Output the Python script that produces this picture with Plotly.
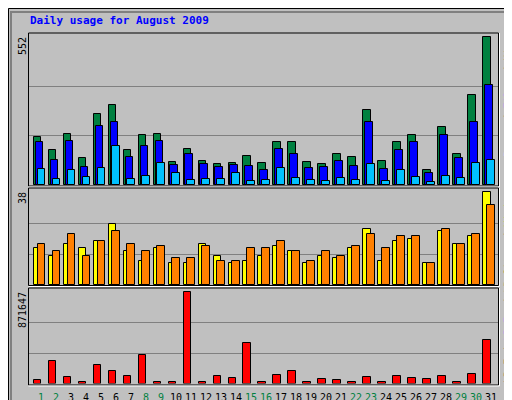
import plotly.graph_objects as go

days = list(range(1, 32))
hits = [181,129,192,102,267,297,129,185,192,87,136,91,80,84,110,84,159,159,87,80,117,106,282,91,159,185,57,215,114,338,552]
files = [162,95,166,69,219,237,106,144,166,76,117,80,69,76,72,57,136,117,65,69,91,72,234,61,132,162,46,185,99,234,375]
pages = [61,24,57,31,65,147,24,35,84,46,20,24,24,46,16,20,65,27,20,16,27,20,80,16,57,31,12,35,27,84,95]
visits = [15,12,17,15,18,25,14,10,15,9,9,17,12,9,10,12,16,14,9,12,11,15,23,10,18,19,9,22,17,20,38]
sites = [17,14,21,12,18,22,17,14,16,11,11,16,10,10,15,15,18,14,10,14,12,16,21,15,20,20,9,23,17,21,33]
kbf = [32000,213000,60000,12000,175000,118000,70000,270000,12000,12000,871647,12000,70000,51000,385000,12000,80000,118000,12000,41000,32000,12000,60000,12000,70000,51000,41000,70000,12000,89000,413000]
weekend = [1,2,8,9,15,16,22,23,29,30]
max_hits, max_visits, max_kb = 552, 38, 871647

fig = go.Figure()
def bars(y, color, off, ax):
    fig.add_trace(go.Bar(x=days, y=y, marker=dict(color=color, line=dict(color="black", width=1)),
                         offset=off, width=0.49, xaxis="x" + ax, yaxis="y" + ax, showlegend=False))
bars(hits, "#008040", -0.38, "")
bars(files, "#0000FF", -0.25, "")
bars(pages, "#00C0FF", -0.12, "")
bars(visits, "#FFFF00", -0.38, "2")
bars(sites, "#FF8000", -0.12, "2")
bars(kbf, "#FF0000", -0.38, "3")

xr = [0.31, 31.6]
xdom = [21/512, 490/512]
xcommon = dict(range=xr, domain=xdom, showticklabels=False, showgrid=False, zeroline=False, fixedrange=True)
def yax(dom, mx, rng):
    return dict(domain=dom, range=[0, rng], tickvals=[mx/3, 2*mx/3], ticktext=["", ""],
                showgrid=True, gridcolor="#808080", gridwidth=1, zeroline=False, ticks="")
fig.update_layout(
    width=512, height=400, margin=dict(l=0, r=0, t=0, b=0),
    paper_bgcolor="#C0C0C0", plot_bgcolor="#C0C0C0", barmode="overlay", bargap=0,
    xaxis=dict(**xcommon, anchor="y"), xaxis2=dict(**xcommon, anchor="y2"), xaxis3=dict(**xcommon, anchor="y3"),
    yaxis=dict(**yax([0.5575, 0.935], max_hits, 564), anchor="x"),
    yaxis2=dict(**yax([0.3075, 0.5475], max_visits * 0.99, 39.4), anchor="x2"),
    yaxis3=dict(**yax([0.061, 0.2975], max_kb, 903000), anchor="x3"),
)
mono = "DejaVu Sans Mono"
ann = [dict(x=20/512, y=1-12/400, xref="paper", yref="paper", text="<b>Daily usage for August 2009</b>",
            showarrow=False, xanchor="left", yanchor="middle", font=dict(family=mono, size=11, color="#0000FF"))]
for lbl, yv in [(str(max_hits), 1-27/400), (str(max_visits), 1-182/400), (str(max_kb), 1-282/400)]:
    ann.append(dict(x=14/512, y=yv, xref="paper", yref="paper", text=lbl, textangle=-90, showarrow=False,
                    xanchor="center", yanchor="top", font=dict(family=mono, size=10, color="black")))
f = dict(family=mono, size=10, color="black")
ann.append(dict(x=500/512, y=1-27/400, xref="paper", yref="paper", textangle=-90, showarrow=False,
                xanchor="center", yanchor="top", font=f,
                text='<span style="color:#00C0FF">Pages</span> / <span style="color:#0000FF">Files</span> / <span style="color:#008040">Hits</span>'))
ann.append(dict(x=500/512, y=1-181/400, xref="paper", yref="paper", textangle=-90, showarrow=False,
                xanchor="center", yanchor="top", font=f,
                text='<span style="color:#FF8000">Sites</span> / <span style="color:#FFFF00">Visits</span>'))
ann.append(dict(x=500/512, y=1-377/400, xref="paper", yref="paper", textangle=-90, showarrow=False,
                xanchor="center", yanchor="bottom", font=f,
                text='<span style="color:#FF0000">kB F</span> / <span style="color:#0000FF">kB In</span> / <span style="color:#008040">kB Out</span>'))
for d in days:
    ann.append(dict(x=d + 0.11, y=1-389/400, xref="x3", yref="paper", text=str(d), showarrow=False,
                    xanchor="center", yanchor="middle",
                    font=dict(family=mono, size=10, color="#008040" if d in weekend else "black")))
fig.update_layout(annotations=ann)

shapes = [dict(type="rect", xref="paper", yref="paper", x0=0.5/512, y0=0.5/400, x1=511.5/512, y1=399.5/400,
               line=dict(color="black", width=1)),
          dict(type="rect", xref="paper", yref="paper", x0=3/512, y0=4/400, x1=508/512, y1=396/400,
               line=dict(color="#808080", width=2))]
for top, bot in [(25, 178), (180, 277.5), (280, 377)]:
    shapes.append(dict(type="rect", xref="paper", yref="paper", x0=20.5/512, x1=490.5/512,
                       y0=1-bot/400, y1=1-top/400, line=dict(color="black", width=1)))
    shapes.append(dict(type="line", xref="paper", yref="paper", x0=20.5/512, x1=491.5/512,
                       y0=1-(bot+1)/400, y1=1-(bot+1)/400, line=dict(color="white", width=1)))
    shapes.append(dict(type="line", xref="paper", yref="paper", x0=491.5/512, x1=491.5/512,
                       y0=1-(bot+1)/400, y1=1-top/400, line=dict(color="white", width=1)))
fig.update_layout(shapes=shapes)
fig.write_html("out.html")
